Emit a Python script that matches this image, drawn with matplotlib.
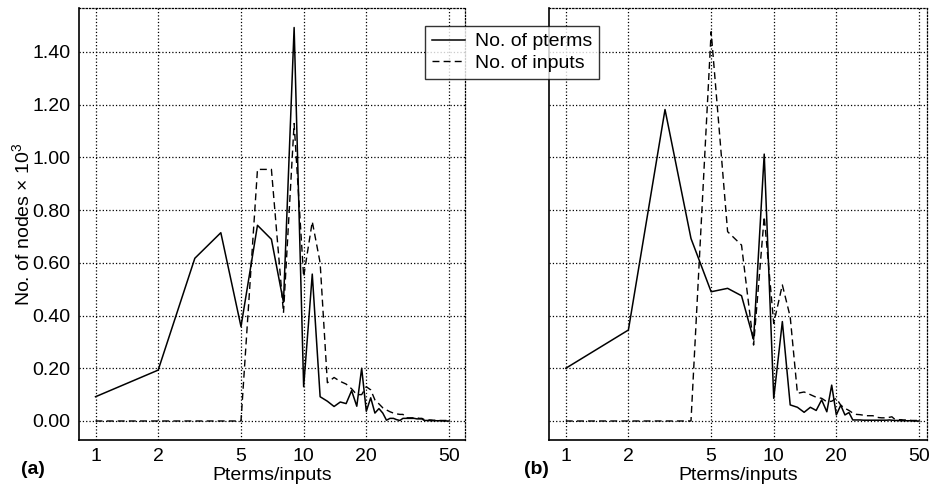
import matplotlib
matplotlib.use("Agg")
import matplotlib.pyplot as plt

plt.rcParams['font.family'] = ['Liberation Sans', 'DejaVu Sans']
plt.rcParams['mathtext.fontset'] = 'custom'
plt.rcParams['mathtext.rm'] = 'Liberation Sans'

size = list(range(1, 51))

a_pterms = [0.092, 0.193, 0.617, 0.714, 0.358, 0.742, 0.689, 0.450, 1.492, 0.130,
            0.557, 0.092, 0.075, 0.055, 0.072, 0.066, 0.115, 0.056, 0.200, 0.037,
            0.088, 0.030, 0.047, 0.030, 0.003, 0.010, 0.010, 0.005, 0.002, 0.010,
            0.010, 0.010, 0.010, 0.010, 0.008, 0.008, 0.008, 0.002, 0.002, 0.002,
            0.001, 0.001, 0.001, 0.001, 0.001, 0.001, 0.000, 0.000, 0.000, 0.000]
a_inputs = [0.0, 0.0, 0.0, 0.0, 0.0, 0.954, 0.954, 0.410, 1.128, 0.547,
            0.756, 0.600, 0.145, 0.165, 0.150, 0.140, 0.122, 0.100, 0.100, 0.130,
            0.118, 0.080, 0.065, 0.050, 0.042, 0.035, 0.030, 0.027, 0.025, 0.025,
            0.012, 0.012, 0.012, 0.012, 0.012, 0.010, 0.010, 0.005, 0.005, 0.004,
            0.004, 0.003, 0.003, 0.003, 0.002, 0.002, 0.002, 0.002, 0.002, 0.002]

b_pterms = [0.200, 0.345, 1.181, 0.692, 0.490, 0.503, 0.475, 0.309, 1.012, 0.086,
            0.377, 0.061, 0.052, 0.033, 0.052, 0.040, 0.080, 0.035, 0.136, 0.023,
            0.060, 0.023, 0.032, 0.004, 0.004, 0.004, 0.003, 0.003, 0.003, 0.003,
            0.003, 0.003, 0.003, 0.003, 0.003, 0.004, 0.003, 0.002, 0.002, 0.002,
            0.001, 0.001, 0.001, 0.001, 0.001, 0.001, 0.000, 0.000, 0.000, 0.000]
b_inputs = [0.0, 0.0, 0.0, 0.0, 1.476, 0.718, 0.667, 0.288, 0.775, 0.370,
            0.516, 0.395, 0.105, 0.110, 0.100, 0.090, 0.086, 0.073, 0.075, 0.086,
            0.060, 0.048, 0.040, 0.030, 0.025, 0.024, 0.022, 0.020, 0.020, 0.020,
            0.015, 0.013, 0.012, 0.012, 0.012, 0.014, 0.016, 0.008, 0.006, 0.005,
            0.005, 0.004, 0.004, 0.003, 0.003, 0.002, 0.002, 0.002, 0.002, 0.002]

yticks = [0.0, 0.2, 0.4, 0.6, 0.8, 1.0, 1.2, 1.4]
xticks = [1, 2, 5, 10, 20, 50]

fig = plt.figure(figsize=(9.3, 4.91), dpi=100)
ax1 = fig.add_axes([0.0846, 0.1039, 0.4154, 0.8798])
ax2 = fig.add_axes([0.5903, 0.1039, 0.4065, 0.8798])


def panel(ax, pterms, inputs, xlim, label, xpos):
    l1, = ax.plot(size, pterms, color='black', lw=1.1, label='No. of pterms')
    l2, = ax.plot(size, inputs, color='black', lw=1.0, linestyle=(0, (5, 3)),
                  label='No. of inputs')
    ax.set_xscale('log')
    ax.set_xlim(xlim)
    ax.set_ylim(-0.072, 1.566)
    ax.set_xticks(xticks)
    ax.set_xticklabels([str(t) for t in xticks])
    ax.minorticks_off()
    ax.set_yticks(yticks)
    ax.grid(True, color='black', linestyle=':', linewidth=0.9)
    ax.tick_params(length=0, labelsize=14, pad=6)
    ax.set_xlabel('Pterms/inputs', fontsize=14, labelpad=1)
    for s in ['top', 'right']:
        ax.spines[s].set_linestyle(':')
        ax.spines[s].set_linewidth(0.9)
    for s in ['left', 'bottom']:
        ax.spines[s].set_linewidth(1.2)
    fig.text(xpos, 0.035, label, fontsize=14, fontweight='bold')
    return l1, l2


l1, l2 = panel(ax1, a_pterms, a_inputs, (0.83, 59.6), '(a)', 0.023)
ax1.set_yticklabels(['%.2f' % v for v in yticks])
ax1.set_ylabel(r'No. of nodes $\times$ 10$^3$', fontsize=14, labelpad=-1)

panel(ax2, b_pterms, b_inputs, (0.83, 54.6), '(b)', 0.563)
ax2.set_yticklabels([])

leg = fig.legend([l1, l2], ['No. of pterms', 'No. of inputs'],
                 loc='upper left', bbox_to_anchor=(0.457, 0.947),
                 fontsize=14, frameon=True, fancybox=False,
                 borderpad=0.35, labelspacing=0.2, handlelength=1.7,
                 handletextpad=0.5, borderaxespad=0)
leg.get_frame().set_edgecolor('black')
leg.get_frame().set_linewidth(1.0)

fig.savefig('out.png', dpi=100)
